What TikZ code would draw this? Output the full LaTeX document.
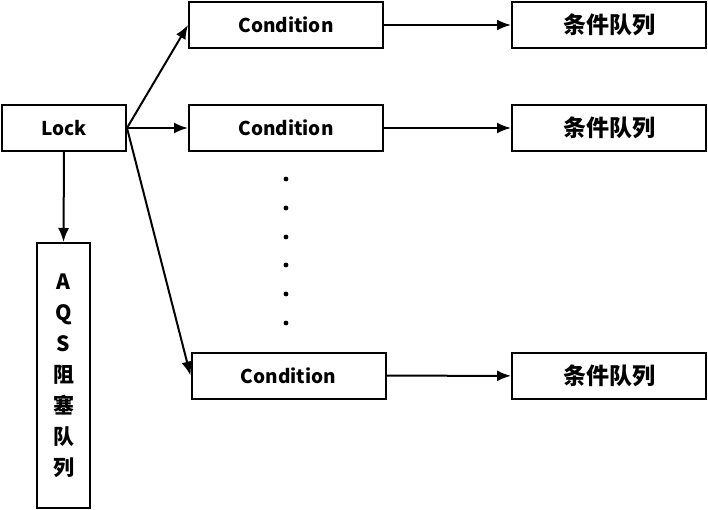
\documentclass[tikz,border=0pt]{standalone}
\usepackage{fontspec}
\setmainfont{Noto Sans CJK SC}
\usepackage{tikz}
\usetikzlibrary{arrows.meta,positioning}

\begin{document}
\begin{tikzpicture}[
  x=1pt, y=-1pt,
  box/.style={draw, line width=2pt, minimum width=194pt,
              minimum height=46pt, inner sep=0pt, font=\fontsize{19}{22}\selectfont\bfseries},
  queue/.style={box, font=\fontsize{23}{26}\selectfont\bfseries},
  link/.style={line width=2pt, -{Latex[length=14pt,width=11pt]}}]
  \useasboundingbox (0,0) rectangle (708,510);
  \node[box, minimum width=124pt] (lock) at (64,128) {Lock};
  \node[box, minimum width=53pt, minimum height=265pt, align=center,
        font=\fontsize{21}{31}\selectfont\bfseries] (aqs) at (63.5,375.5)
        {A\\Q\\S\\阻\\塞\\队\\列};
  \node[box] (cond1) at (286,25) {Condition};
  \node[box] (cond2) at (286,128) {Condition};
  \node[box] (cond3) at (288.5,375.5) {Condition};
  \node[queue] (queue1) at (609,25) {条件队列};
  \node[queue] (queue2) at (609,128) {条件队列};
  \node[queue] (queue3) at (609,376) {条件队列};
  \draw[link] (lock.east) -- (cond1.west);
  \draw[link] (lock.east) -- (cond2.west);
  \draw[link] (lock.east) -- (cond3.west);
  \draw[link] (lock.south) -- (aqs.north);
  \draw[link] (cond1) -- (queue1);
  \draw[link] (cond2) -- (queue2);
  \draw[link] (cond3) -- (queue3);
  % vertical dots between the conditions
  \foreach \y in {179,208,237,265,294,323}
    \fill (286,\y) circle (2.4pt);
\end{tikzpicture}
\end{document}
